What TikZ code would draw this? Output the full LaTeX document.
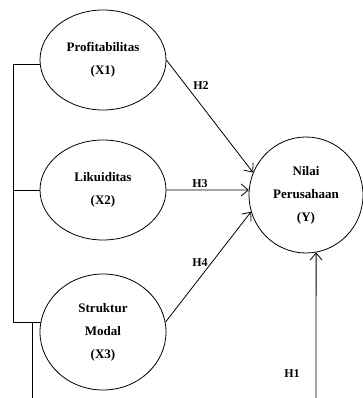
\documentclass[tikz,border=0pt]{standalone}
\usepackage{fontspec}
\setmainfont{Liberation Serif}
\usetikzlibrary{shapes.geometric,arrows.meta}

\tikzset{
  variabel/.style={ellipse,draw,line width=0.8pt,inner sep=0pt,minimum width=126pt,minimum height=100pt,align=center,font=\fontsize{13}{23}\selectfont\bfseries},
  panah/.style={line width=0.8pt,-{Straight Barb[length=7pt,width=12pt]}},
  garis/.style={line width=0.8pt},
  hipotesis/.style={font=\fontsize{12}{14}\selectfont\bfseries,inner sep=0pt}
}

\begin{document}
\begin{tikzpicture}[x=1pt,y=-1pt]
\useasboundingbox (0,0) rectangle (362,398);
\node[variabel] (x1) at (103,60) {Profitabilitas\\(X1)};
\node[variabel] (x2) at (103,190) {Likuiditas\\(X2)};
\node[variabel,minimum height=116pt] (x3) at (103,332) {Struktur\\Modal\\(X3)};
\node[variabel,minimum width=114pt,minimum height=116pt] (y) at (306,195) {Nilai\\Perusahaan\\(Y)};
\coordinate (kiri) at (13,0);
\coordinate (bawah) at (32,398);
\coordinate (bawahY) at (316,398);
% garis kiri
\draw[garis] (x1.184) -| (kiri |- x3.171) -- (x3.171);
\draw[garis] (x2.west) -- (kiri |- x2.west);
\draw[garis] (bawah |- x3.171) -- (bawah);
% panah hipotesis
\draw[panah] (x1.east) -- (y.157);
\draw[panah] (x2.east) -- (y.175);
\draw[panah] (x3.9) -- (y.197);
\draw[panah] (bawahY) -- (y.280);
\node[hipotesis] (h2) at (201,86) {H2};
\node[hipotesis] (h3) at (200,184) {H3};
\node[hipotesis] (h4) at (200,263) {H4};
\node[hipotesis] (h1) at (292,374) {H1};
\end{tikzpicture}
\end{document}
